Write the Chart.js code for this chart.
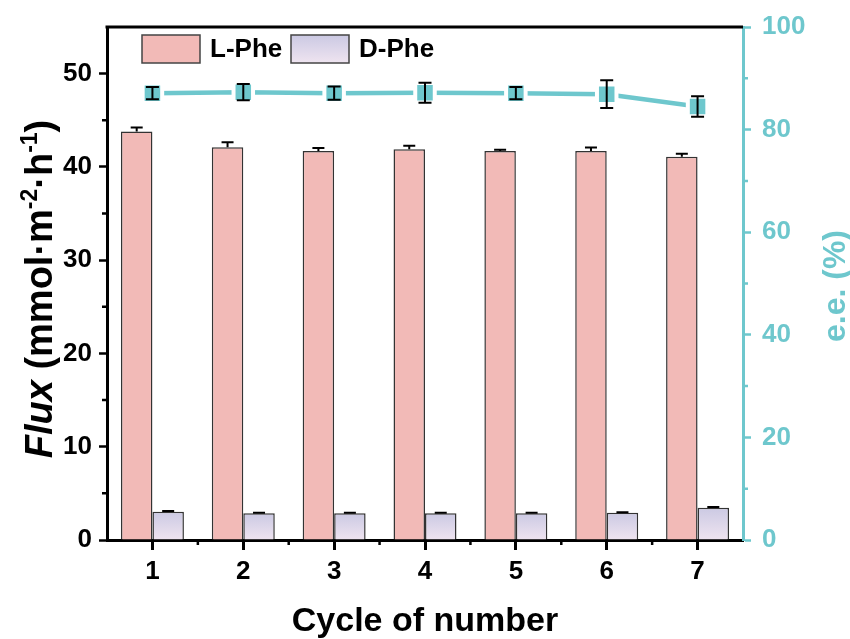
<!DOCTYPE html>
<html lang="en">
  <head>
    <meta charset="UTF-8" />
    <title>Flux and e.e. over cycles</title>
    <script src="https://cdn.jsdelivr.net/npm/chart.js"></script>
    <style>
      html, body { margin: 0; padding: 0; background: #fff; }
      #wrap { width: 850px; height: 639px; }
    </style>
  </head>
  <body>
    <div id="wrap"><canvas id="chart" width="850" height="639"></canvas></div>
    <script>
      // cycle labels and measured values
      const cycles = ["1", "2", "3", "4", "5", "6", "7"];
      const lPhe = [43.8, 42.1, 41.7, 41.9, 41.7, 41.7, 41.1];
      const lPheErr = [0.43, 0.54, 0.32, 0.36, 0.14, 0.39, 0.32];
      const dPhe = [3.04, 2.86, 2.86, 2.86, 2.86, 2.93, 3.47];
      const dPheErr = [0.06, 0.05, 0.05, 0.05, 0.05, 0.05, 0.08];
      const ee = [87.1, 87.3, 87.1, 87.2, 87.1, 86.9, 84.5];
      const eeErr = [1.2, 1.6, 1.3, 1.95, 1.2, 2.7, 2.0];

      const FONT = "'Liberation Sans', Arial, sans-serif";
      const CYAN = "#6EC7CD";
      const PINK = "#F2BAB7";
      const LAV_TOP = "#CBC9E3";
      const LAV_BOTTOM = "#EFE4F0";

      // dataset index -> error values
      const errors = [lPheErr, dPheErr, eeErr];

      // vertical error bars; bars only get the upper half
      const errorBars = {
        id: "errorBars",
        afterDatasetsDraw(chart) {
          const ctx = chart.ctx;
          chart.data.datasets.forEach((ds, i) => {
            const meta = chart.getDatasetMeta(i);
            const scale = chart.scales[meta.yAxisID];
            const errs = errors[i];
            const isBar = meta.type === "bar";
            const cap = isBar ? 6 : 6.5;
            ctx.save();
            ctx.strokeStyle = "#000";
            ctx.lineWidth = 2;
            meta.data.forEach((el, j) => {
              const v = ds.data[j];
              const hi = scale.getPixelForValue(v + errs[j]);
              const lo = isBar
                ? scale.getPixelForValue(v)
                : scale.getPixelForValue(v - errs[j]);
              ctx.beginPath();
              ctx.moveTo(el.x, hi);
              ctx.lineTo(el.x, lo);
              ctx.moveTo(el.x - cap, hi);
              ctx.lineTo(el.x + cap, hi);
              if (!isBar) {
                ctx.moveTo(el.x - cap, lo);
                ctx.lineTo(el.x + cap, lo);
              }
              ctx.stroke();
            });
            ctx.restore();
          });
        },
      };

      // top frame line, minor ticks, legend and axis titles
      const decorations = {
        id: "decorations",
        afterDraw(chart) {
          const ctx = chart.ctx;
          const area = chart.chartArea;
          const x = chart.scales.x;
          const y = chart.scales.y;
          const y1 = chart.scales.y1;
          ctx.save();

          ctx.strokeStyle = "#000";
          ctx.lineWidth = 3;
          ctx.beginPath();
          ctx.moveTo(area.left - 1.5, area.top);
          ctx.lineTo(area.right, area.top);
          ctx.stroke();

          ctx.lineWidth = 2.5;
          ctx.beginPath();
          for (let v = 5; v < 55; v += 10) {
            const py = y.getPixelForValue(v);
            ctx.moveTo(area.left, py);
            ctx.lineTo(area.left - 5, py);
          }
          for (let i = 0; i < cycles.length - 1; i++) {
            const px = (x.getPixelForValue(i) + x.getPixelForValue(i + 1)) / 2;
            ctx.moveTo(px, area.bottom);
            ctx.lineTo(px, area.bottom + 5);
          }
          ctx.stroke();

          ctx.strokeStyle = CYAN;
          ctx.beginPath();
          for (let v = 10; v < 100; v += 20) {
            const py = y1.getPixelForValue(v);
            ctx.moveTo(area.right, py);
            ctx.lineTo(area.right + 5, py);
          }
          ctx.stroke();

          // legend
          const items = [
            { label: chart.data.datasets[0].label, x: 142, fill: PINK },
            { label: chart.data.datasets[1].label, x: 291, fill: "grad" },
          ];
          items.forEach((it) => {
            let fill = it.fill;
            if (fill === "grad") {
              fill = ctx.createLinearGradient(0, 35, 0, 63);
              fill.addColorStop(0, LAV_TOP);
              fill.addColorStop(1, LAV_BOTTOM);
            }
            ctx.fillStyle = fill;
            ctx.fillRect(it.x, 35, 58, 28);
            ctx.strokeStyle = "#444";
            ctx.lineWidth = 1.5;
            ctx.strokeRect(it.x, 35, 58, 28);
            ctx.fillStyle = "#000";
            ctx.font = "bold 26px " + FONT;
            ctx.textBaseline = "middle";
            ctx.textAlign = "left";
            ctx.fillText(it.label, it.x + 68, 50);
          });

          // x title
          ctx.textBaseline = "alphabetic";
          ctx.textAlign = "center";
          ctx.fillStyle = "#000";
          ctx.font = "bold 34px " + FONT;
          ctx.fillText("Cycle of number", (area.left + area.right) / 2, 631);

          // left title with italic Flux and superscripts
          const big = 38;
          const small = 23;
          const parts = [
            { t: "Flux", f: "italic bold " + big + "px " + FONT, dy: 0 },
            { t: " (mmol\u00b7m", f: "bold " + big + "px " + FONT, dy: 0 },
            { t: "-2", f: "bold " + small + "px " + FONT, dy: -15 },
            { t: "\u00b7h", f: "bold " + big + "px " + FONT, dy: 0 },
            { t: "-1", f: "bold " + small + "px " + FONT, dy: -15 },
            { t: ")", f: "bold " + big + "px " + FONT, dy: 0 },
          ];
          let total = 0;
          parts.forEach((p) => {
            ctx.font = p.f;
            p.w = ctx.measureText(p.t).width;
            total += p.w;
          });
          ctx.save();
          ctx.translate(52, 289);
          ctx.rotate(-Math.PI / 2);
          ctx.textAlign = "left";
          let cx = -total / 2;
          parts.forEach((p) => {
            ctx.font = p.f;
            ctx.fillText(p.t, cx, p.dy);
            cx += p.w;
          });
          ctx.restore();

          // right title
          ctx.save();
          ctx.translate(845, 286);
          ctx.rotate(-Math.PI / 2);
          ctx.textAlign = "center";
          ctx.fillStyle = CYAN;
          ctx.font = "bold 32px " + FONT;
          ctx.fillText("e.e. (%)", 0, 0);
          ctx.restore();

          ctx.restore();
        },
      };

      function lavender(c) {
        const chart = c.chart;
        if (!chart.chartArea || c.raw === undefined) return LAV_TOP;
        const ys = chart.scales.y;
        const g = chart.ctx.createLinearGradient(
          0, ys.getPixelForValue(c.raw), 0, ys.getPixelForValue(0)
        );
        g.addColorStop(0, LAV_TOP);
        g.addColorStop(1, LAV_BOTTOM);
        return g;
      }

      function createChart() {
        const ctx = document.getElementById("chart").getContext("2d");
        new Chart(ctx, {
          type: "bar",
          data: {
            labels: cycles,
            datasets: [
              {
                label: "L-Phe",
                data: lPhe,
                yAxisID: "y",
                backgroundColor: PINK,
                borderColor: "#333",
                borderWidth: 1.5,
                order: 1,
              },
              {
                label: "D-Phe",
                data: dPhe,
                yAxisID: "y",
                backgroundColor: lavender,
                borderColor: "#333",
                borderWidth: 1.5,
                order: 1,
              },
              {
                type: "line",
                label: "e.e.",
                data: ee,
                yAxisID: "y1",
                borderColor: CYAN,
                borderWidth: 4.5,
                tension: 0,
                pointStyle: "rect",
                pointRadius: 13.8,
                pointBorderWidth: 4,
                pointBorderColor: "#fff",
                pointBackgroundColor: CYAN,
                order: 0,
              },
            ],
          },
          options: {
            responsive: false,
            animation: false,
            events: [],
            layout: { padding: { top: 27, left: 0, right: 0, bottom: 0 } },
            datasets: {
              bar: { categoryPercentage: 0.693, barPercentage: 1 },
            },
            plugins: {
              legend: { display: false },
              tooltip: { enabled: false },
            },
            scales: {
              x: {
                offset: true,
                afterFit: (s) => { s.height = 99; },
                grid: {
                  offset: false,
                  drawOnChartArea: false,
                  tickLength: 10,
                  tickWidth: 3,
                  tickColor: "#000",
                },
                border: { color: "#000", width: 3 },
                ticks: {
                  color: "#000",
                  padding: 6,
                  font: { family: FONT, size: 26, weight: "bold" },
                },
              },
              y: {
                position: "left",
                min: 0,
                max: 55,
                afterFit: (s) => { s.width = 107; },
                afterBuildTicks: (s) => {
                  s.ticks = s.ticks.filter((t) => t.value % 10 === 0);
                },
                grid: {
                  drawOnChartArea: false,
                  tickLength: 8,
                  tickWidth: 2.5,
                  tickColor: "#000",
                },
                border: { color: "#000", width: 3 },
                ticks: {
                  stepSize: 10,
                  color: "#000",
                  padding: 7,
                  font: { family: FONT, size: 26, weight: "bold" },
                },
              },
              y1: {
                position: "right",
                min: 0,
                max: 100,
                afterFit: (s) => { s.width = 107; },
                grid: {
                  drawOnChartArea: false,
                  tickLength: 8,
                  tickWidth: 2.5,
                  tickColor: CYAN,
                },
                border: { color: CYAN, width: 3 },
                ticks: {
                  stepSize: 20,
                  color: CYAN,
                  padding: 11,
                  font: { family: FONT, size: 26, weight: "bold" },
                },
              },
            },
          },
          plugins: [errorBars, decorations],
        });
      }

      document.addEventListener("DOMContentLoaded", createChart);
    </script>
  </body>
</html>
